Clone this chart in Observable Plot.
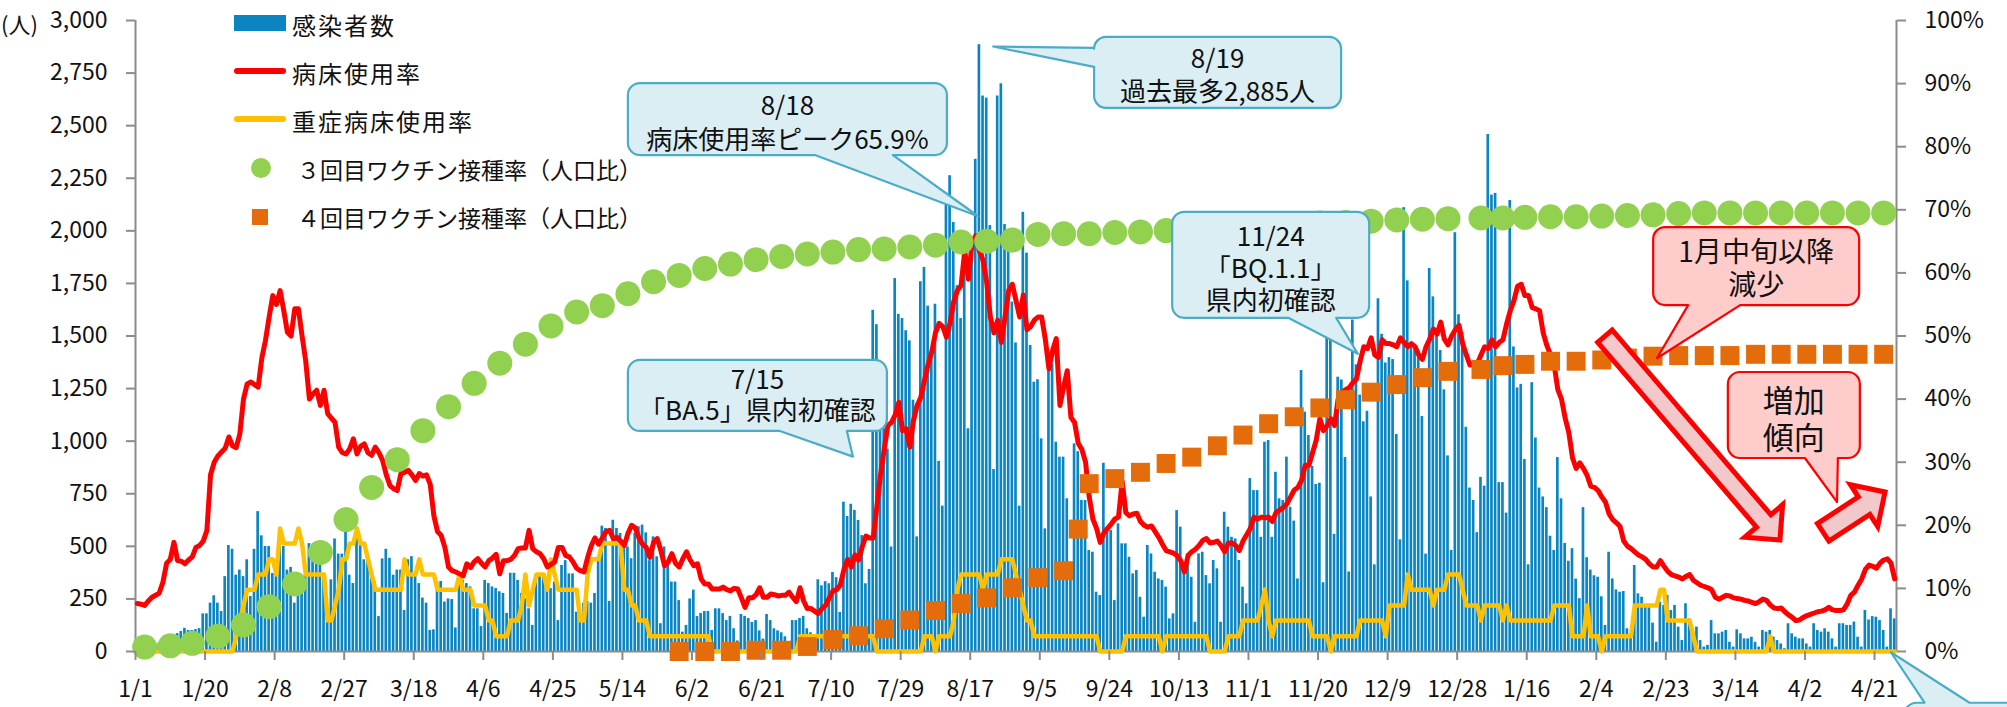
<!DOCTYPE html>
<html lang="ja">
<head>
<meta charset="utf-8">
<script src="https://cdn.jsdelivr.net/npm/d3@7"></script>
<script src="https://cdn.jsdelivr.net/npm/@observablehq/plot@0.6"></script>
<style>
html,body{margin:0;padding:0;background:#fff;overflow:hidden;}
#chart svg{display:block;overflow:hidden;}
</style>
</head>
<body>
<div id="chart"></div>
<script>
// Daily new cases, 2022-01-01 (day 0) .. 2023-04-26 (day 480)
const cases = [
15,20,10,25,30,35,40,45,30,55,
70,85,95,110,100,100,104,109,179,179,
230,265,230,190,356,504,486,363,387,356,
436,262,486,665,550,499,499,371,380,511,
499,387,400,230,309,341,356,513,499,443,
436,371,166,341,535,463,463,574,363,323,
545,513,436,436,387,330,166,440,486,443,
363,387,387,195,436,451,371,323,254,230,
100,103,330,333,235,250,247,112,345,338,
323,307,203,203,119,338,323,307,299,284,
276,181,372,372,338,276,250,203,124,338,
369,354,338,299,330,147,409,432,369,369,
187,181,230,238,230,276,450,596,585,238,
624,585,561,521,497,441,561,593,601,564,
432,545,450,132,497,409,330,330,242,92,
124,250,292,166,181,190,190,100,203,203,
180,147,167,108,50,176,167,157,138,147,
98,59,176,147,108,98,89,70,30,147,
147,157,167,108,89,40,341,312,332,322,
376,351,186,710,642,700,671,623,551,322,
390,1622,1554,1059,1059,962,497,1773,1603,1583,
1525,1477,1195,545,1758,1826,1642,1409,1651,904,
691,2127,2262,2040,1739,1583,1850,1059,1900,2340,
2885,2641,2631,2025,865,2641,2699,2030,1952,1661,
1467,691,2088,1894,1455,1280,1292,1011,583,1360,
1367,995,924,924,726,417,987,950,718,718,
480,472,282,266,895,591,575,242,607,512,
512,448,369,385,258,163,504,464,377,345,
338,306,155,179,670,591,417,464,353,139,
464,472,361,322,433,393,139,662,591,543,
535,433,306,227,822,765,765,543,995,1003,
543,852,726,718,924,686,620,345,1336,1138,
1027,880,794,800,327,1516,1500,557,1304,1291,
922,378,1576,1363,1219,1092,1142,735,412,1677,
1508,1372,1397,1388,1032,531,2110,1762,1465,1448,
1431,1117,463,1821,1686,1499,1431,1244,930,480,
1991,1601,1516,1066,777,718,565,828,786,2458,
2170,2178,803,803,658,2144,1448,1253,1270,913,
412,1278,1015,777,735,684,548,480,922,726,
514,429,489,344,251,684,446,387,360,353,
260,124,472,345,293,282,285,108,68,409,
274,258,211,211,135,44,235,219,266,195,
219,116,52,227,155,108,116,52,21,29,
147,84,84,92,100,44,21,103,84,60,
60,68,44,21,100,92,100,68,52,36,
13,132,84,68,60,60,36,21,132,100,
92,108,92,60,21,132,132,124,124,140,
68,21,195,150,166,163,147,100,21,203,
155];

// 病床使用率 (%) daily
const bedRate = [
7.6,7.5,7.3,8.0,8.6,8.9,9.3,11.0,14.0,14.6,
17.3,14.4,14.3,13.9,14.5,15.0,16.5,16.8,17.5,19.2,
28.0,30.0,31.0,31.6,32.2,34.0,32.6,32.3,34.5,40.0,
42.4,42.7,42.3,41.9,46.5,49.3,53.0,56.4,55.0,57.2,
54.0,50.6,50.0,54.3,54.3,50.0,46.0,40.0,40.8,41.4,
39.0,41.4,37.7,37.0,36.3,32.4,31.5,31.3,32.1,33.7,
31.3,32.5,32.9,31.5,31.1,32.4,31.5,30.3,28.0,26.3,
25.8,25.5,28.2,28.4,28.7,28.0,27.1,28.2,27.8,28.0,
26.5,21.5,19.0,18.4,16.5,13.4,12.8,12.6,12.3,12.0,
13.9,13.3,14.2,14.7,14.0,13.4,14.4,14.8,15.4,12.3,
14.4,14.4,14.6,15.2,16.3,16.4,16.4,19.2,16.3,15.8,
15.5,14.7,13.4,13.8,14.2,16.5,16.5,15.2,15.0,14.2,
13.2,12.8,12.6,14.9,16.8,18.0,17.0,18.0,19.0,19.2,
17.9,18.1,17.5,16.8,18.7,20.0,19.6,18.0,17.0,16.5,
14.9,17.3,17.9,16.0,13.6,14.2,15.5,14.0,13.4,14.7,
15.8,14.5,13.6,13.9,11.5,10.7,10.7,9.9,9.9,9.9,
10.2,9.8,9.6,10.0,9.9,8.5,7.0,8.5,8.5,9.0,
10.1,8.6,8.6,9.1,9.0,8.8,8.9,8.9,9.4,8.6,
7.9,10.1,8.0,6.8,6.8,6.4,6.0,6.8,7.3,8.5,
9.6,9.8,10.5,13.0,14.6,13.4,15.3,14.5,16.6,18.3,
18.0,18.0,23.0,28.0,32.0,35.8,36.3,37.5,39.5,35.0,
35.3,32.4,36.6,39.0,40.3,43.0,45.5,47.5,50.5,52.0,
51.5,49.8,52.1,55.5,57.2,58.0,63.5,59.0,64.8,65.9,
63.5,62.0,58.5,53.0,50.5,52.5,49.0,53.0,57.2,58.2,
55.6,53.0,56.5,51.0,51.5,52.5,53.0,53.0,49.5,44.8,
47.7,49.6,39.0,41.9,44.5,37.1,36.3,33.0,32.0,30.0,
24.5,21.0,19.5,17.3,18.8,19.5,20.2,21.0,21.3,27.0,
22.0,21.5,21.8,21.9,20.6,20.0,19.7,19.9,19.0,18.1,
17.0,16.0,15.8,15.6,15.2,14.4,12.6,15.2,15.8,16.2,
16.8,17.6,17.9,17.2,17.3,17.5,16.8,15.8,17.2,17.2,
16.8,16.0,17.5,18.5,19.5,21.3,21.0,21.3,21.2,21.3,
20.6,22.0,22.4,22.8,23.4,24.5,25.6,26.0,27.1,29.5,
29.5,31.5,33.5,36.9,35.0,35.8,36.9,35.8,40.1,41.0,
41.5,41.8,42.6,43.2,46.0,48.3,48.0,49.7,47.0,46.6,
49.4,48.8,48.8,48.6,48.3,49.7,49.0,48.3,48.8,48.3,
47.0,46.3,48.3,49.5,51.1,50.3,52.2,49.5,48.6,50.0,
51.0,51.7,48.8,47.0,45.4,45.6,45.6,47.0,48.3,48.0,
49.4,48.3,49.0,49.4,51.9,54.0,55.6,57.9,58.2,56.4,
56.4,54.5,54.3,54.0,50.5,48.5,47.0,45.4,41.5,40.0,
37.0,34.7,30.7,29.0,29.9,29.0,27.9,26.2,26.0,25.5,
24.5,23.7,21.8,20.9,20.4,19.8,17.5,16.7,16.3,15.8,
15.3,15.0,14.6,13.9,13.4,13.4,14.4,13.5,12.7,12.2,
12.0,11.8,11.5,11.9,12.2,11.3,10.9,10.5,10.3,10.1,
9.8,8.6,8.3,8.6,8.9,8.8,8.5,8.4,8.3,8.1,
8.0,7.8,7.6,7.9,8.3,8.1,7.4,6.9,6.8,6.9,
6.3,5.8,5.4,4.9,5.0,5.4,5.7,5.9,6.1,6.3,
6.4,6.6,7.0,6.6,6.5,6.5,6.6,7.5,8.9,9.4,
10.5,11.5,13.0,13.7,13.5,13.2,14.0,14.5,14.7,14.0,
11.5];

// 重症病床使用率 (%) daily
const severeRate = [
0,0,0,0,0,0,0,0,0,0,
0,0,0,0,0,0,0,0,0,0,
0,0,0,0,0,0,0,2.4,4.9,7.3,
9.8,9.8,9.8,12.2,12.2,12.2,14.6,14.6,12.2,19.5,
17.1,17.1,17.1,17.1,19.5,17.1,12.2,12.2,12.2,12.2,
12.2,12.2,4.9,4.9,7.3,9.8,14.6,14.6,17.1,17.1,
19.5,17.1,17.1,14.6,12.2,9.8,9.8,9.8,9.8,9.8,
9.8,9.8,9.8,14.6,12.2,12.2,12.2,14.6,12.2,12.2,
12.2,12.2,9.8,9.8,9.8,9.8,9.8,9.8,12.2,9.8,
9.8,9.8,7.3,7.3,7.3,7.3,4.9,4.9,2.4,2.4,
2.4,2.4,4.9,4.9,4.9,7.3,12.2,7.3,9.8,12.2,
12.2,12.2,9.8,14.6,12.2,9.8,9.8,9.8,9.8,9.8,
9.8,4.9,4.9,12.2,14.6,14.6,14.6,17.1,17.1,17.1,
17.1,17.1,17.1,9.8,9.8,7.3,7.3,4.9,4.9,4.9,
2.4,2.4,2.4,2.4,2.4,2.4,2.4,2.4,2.4,2.4,
2.4,2.4,2.4,2.4,2.4,2.4,2.4,0,0,0,
0,0,0,0,0,0,0,0,0,0,
0,0,0,0,0,0,0,0,0,0,
0,2.4,2.4,2.4,2.4,2.4,2.4,2.4,2.4,2.4,
2.4,2.4,2.4,2.4,2.4,2.4,2.4,2.4,2.4,2.4,
2.4,2.4,0,0,0,0,0,0,0,0,
0,0,0,0,0,2.4,2.4,2.4,0,2.4,
2.4,2.4,2.4,4.9,9.8,12.2,12.2,12.2,12.2,12.2,
12.2,9.8,12.2,12.2,12.2,12.2,14.6,14.6,14.6,14.6,
12.2,9.8,7.3,4.9,4.9,2.4,2.4,2.4,2.4,2.4,
2.4,2.4,2.4,2.4,2.4,2.4,2.4,2.4,2.4,2.4,
2.4,2.4,2.4,0,0,0,0,0,0,0,
2.4,2.4,2.4,2.4,2.4,2.4,2.4,2.4,2.4,2.4,
0,2.4,2.4,2.4,2.4,2.4,2.4,2.4,2.4,2.4,
2.4,2.4,2.4,0,0,0,0,0,2.4,2.4,
2.4,2.4,4.9,4.9,4.9,4.9,4.9,7.3,9.8,4.9,
2.4,4.9,4.9,4.9,4.9,4.9,4.9,4.9,4.9,4.9,
4.9,2.4,2.4,2.4,2.4,2.4,0,2.4,2.4,2.4,
2.4,2.4,2.4,2.4,4.9,4.9,4.9,4.9,4.9,4.9,
4.9,2.4,7.3,7.3,7.3,7.3,7.3,12.2,9.8,9.8,
9.8,9.8,9.8,9.8,7.3,9.8,9.8,9.8,12.2,12.2,
12.2,12.2,9.8,7.3,7.3,7.3,7.3,4.9,7.3,7.3,
7.3,7.3,7.3,4.9,7.3,4.9,4.9,4.9,4.9,4.9,
4.9,4.9,4.9,4.9,4.9,4.9,4.9,7.3,7.3,7.3,
7.3,7.3,2.4,2.4,2.4,2.4,7.3,2.4,2.4,2.4,
0,2.4,2.4,2.4,2.4,2.4,2.4,2.4,2.4,7.3,
7.3,7.3,7.3,7.3,7.3,7.3,9.8,9.8,4.9,4.9,
4.9,4.9,4.9,4.9,4.9,2.4,0,0,0,0,
0,0,0,0,0,0,0,0,0,0,
0,0,0,0,0,0,2.4,0,0,0,
0,0,0,0,0,0,0,0,0,0,
0,0,0,0,0,0,0,0,0,0,
0,0,0,0,0,0,0,0,0,0,
0];

// ３回目ワクチン接種率 (weekly)
const vac3Days = [2,9,15,22,29,36,43,50,57,64,71,78,85,92,99,106,113,120,127,134,141,148,155,162,169,176,183,190,197,204,211,218,225,232,239,246,253,260,267,274,281,288,295,302,309,316,323,330,337,344,351,358,367,373,379,386,393,400,407,414,421,428,435,442,449,456,463,470,477];
const vac3Rate = [0.7,0.9,1.3,2.4,4.2,7.1,10.7,15.7,20.9,26.0,
30.4,35.0,38.8,42.5,45.7,48.7,51.6,53.8,54.8,56.7,
58.6,59.6,60.7,61.4,62.1,62.6,63.0,63.3,63.7,63.8,
64.1,64.4,64.9,65.0,65.2,66.1,66.2,66.2,66.4,66.5,
66.7,66.9,67.1,67.3,67.5,67.7,67.9,68.0,68.2,68.4,
68.5,68.6,68.7,68.7,68.8,68.9,68.9,69.0,69.1,69.2,
69.4,69.5,69.5,69.5,69.5,69.5,69.5,69.5,69.5];

// ４回目ワクチン接種率 (weekly)
const vac4Days = [148,155,162,169,176,183,190,197,204,211,218,225,232,239,246,253,257,260,267,274,281,288,295,302,309,316,323,330,337,344,351,358,367,373,379,386,393,400,407,414,421,428,435,442,449,456,463,470,477];
const vac4Rate = [0.0,0.0,0.0,0.2,0.2,0.8,1.9,2.5,3.6,5.0,6.5,7.6,8.5,10.1,11.7,12.8,19.4,26.6,27.4,28.4,29.8,30.8,32.6,34.3,36.1,37.2,38.6,39.9,41.1,42.3,43.4,44.4,44.7,45.3,45.5,46.0,46.0,46.2,46.5,46.8,46.9,46.9,46.9,47.1,47.1,47.1,47.1,47.1,47.1];

const xTickDays = [0,19,38,57,76,95,114,133,152,171,190,209,228,247,266,285,304,323,342,361,380,399,418,437,456,475];
const xTickLabels = ["1/1","1/20","2/8","2/27","3/18","4/6","4/25","5/14","6/2","6/21","7/10","7/29","8/17","9/5","9/24","10/13","11/1","11/20","12/9","12/28","1/16","2/4","2/23","3/14","4/2","4/21"];
const leftTickValues = [0,250,500,750,1000,1250,1500,1750,2000,2250,2500,2750,3000];
const leftTickLabels = ["0","250","500","750","1,000","1,250","1,500","1,750","2,000","2,250","2,500","2,750","3,000"];
const rightTickValues = [0,10,20,30,40,50,60,70,80,90,100];
const rightTickLabels = ["0%","10%","20%","30%","40%","50%","60%","70%","80%","90%","100%"];
const leftUnit = "(人)";
const legendLabels = ["感染者数","病床使用率","重症病床使用率","３回目ワクチン接種率（人口比）","４回目ワクチン接種率（人口比）"];
const calloutTexts = [
  ["8/18","病床使用率ピーク65.9%"],
  ["8/19","過去最多2,885人"],
  ["7/15","「BA.5」県内初確認"],
  ["11/24","「BQ.1.1」","県内初確認"],
  ["1月中旬以降","減少"],
  ["増加","傾向"],
  []
];

const FONT = "'Noto Sans CJK JP','Noto Sans',sans-serif";
const C = {bar:"#0a85c2", bed:"#ff0000", severe:"#ffc000", vac3:"#92d050", vac4:"#e46c0a", axis:"#8c8c8c", text:"#111111"};
const PCT = 30; // 100% (right axis) corresponds to 3,000 (left axis)

const caseData = cases.map((v,i)=>({day:i, v}));
const bedData = bedRate.map((v,i)=>({day:i, v}));
const sevData = severeRate.map((v,i)=>({day:i, v}));
const v3 = vac3Days.map((d,i)=>({day:d, v:vac3Rate[i]}));
const v4 = vac4Days.map((d,i)=>({day:d, v:vac4Rate[i]}));

const leftMap = new Map(leftTickValues.map((v,i)=>[v, leftTickLabels[i]]));
const rightMap = new Map(rightTickValues.map((v,i)=>[v*PCT, rightTickLabels[i]]));
const xMap = new Map(xTickDays.map((v,i)=>[v, xTickLabels[i]]));

const plot = Plot.plot({
  width: 2007, height: 707,
  marginLeft: 135, marginRight: 111, marginTop: 20, marginBottom: 56,
  style: {fontFamily: FONT, background: "#fff"},
  x: {type: "linear", domain: [0, 481]},
  y: {type: "linear", domain: [0, 3000]},
  marks: [
    Plot.ruleX([0, 481], {stroke: C.axis, strokeWidth: 2}),
    Plot.rect(caseData, {x1: d=>d.day, x2: d=>d.day+1, y1: () => 0, y2: d=>d.v, fill: C.bar, insetLeft: 0.5, insetRight: 0.5}),
    Plot.ruleY([0], {stroke: C.axis, strokeWidth: 2}),
    Plot.line(sevData, {x: d=>d.day+0.5, y: d=>d.v*PCT, stroke: C.severe, strokeWidth: 4.5, strokeLinejoin: "round"}),
    Plot.line(bedData, {x: d=>d.day+0.5, y: d=>d.v*PCT, stroke: C.bed, strokeWidth: 5, strokeLinejoin: "round"}),
    Plot.dot(v3, {x: d=>d.day+0.5, y: d=>d.v*PCT, r: 12.5, fill: C.vac3, stroke: null}),
    Plot.dot(v4, {x: d=>d.day+0.5, y: d=>d.v*PCT, r: 10.7, symbol: "square", fill: C.vac4, stroke: null}),
    Plot.axisY(leftTickValues, {anchor: "left", tickSize: 9, tickPadding: 19, tickFormat: d => leftMap.get(d), fontSize: 23, stroke: C.axis, strokeWidth: 2, fill: C.text}),
    Plot.axisY(rightTickValues.map(v=>v*PCT), {anchor: "right", tickSize: 9, tickPadding: 19, tickFormat: d => rightMap.get(d), fontSize: 23, stroke: C.axis, strokeWidth: 2, fill: C.text}),
    Plot.axisX(xTickDays, {anchor: "bottom", tickSize: 9, tickPadding: 20, tickFormat: d => xMap.get(d), fontSize: 23, stroke: C.axis, strokeWidth: 2, fill: C.text})
  ]
});
document.getElementById("chart").appendChild(plot);

// ---------- annotations ----------
const svg = d3.select(plot);
const sx = plot.scale("x"), sy = plot.scale("y");
const px = d => sx.apply(d), py = p => sy.apply(p*PCT);

svg.append("text").attr("x", 1).attr("y", 23).attr("dominant-baseline","central").attr("text-anchor","start")
  .attr("font-family", FONT).attr("font-size", 22).attr("fill", C.text).text(leftUnit);

// arrows
const arrows = [
  {from:[401.5,49.9], to:[449.3,17.6], shaft:19, head:50, headLen:25},
  {from:[461.1,18.8], to:[478.0,25.2], shaft:21, head:50, headLen:25}
];
arrows.forEach(a => {
  const x0 = px(a.from[0]), y0 = py(a.from[1]), x1 = px(a.to[0]), y1 = py(a.to[1]);
  const L = Math.hypot(x1-x0, y1-y0), ux = (x1-x0)/L, uy = (y1-y0)/L, nx = -uy, ny = ux;
  const kx = x1 - ux*a.headLen, ky = y1 - uy*a.headLen;
  const s = a.shaft/2, h = a.head/2;
  const pts = [[x0+nx*s,y0+ny*s],[kx+nx*s,ky+ny*s],[kx+nx*h,ky+ny*h],[x1,y1],[kx-nx*h,ky-ny*h],[kx-nx*s,ky-ny*s],[x0-nx*s,y0-ny*s]];
  svg.append("path").attr("d","M"+pts.map(p=>p.join(",")).join("L")+"Z")
    .attr("fill","#f2c8ca").attr("stroke","#ff0000").attr("stroke-width",5).attr("stroke-linejoin","miter");
});

// callouts
const callouts = [
  {day:178.2, pct:84.3, w:319, h:72, tip:[230.3,68.9], side:"bottom", base:[187,265], kind:"blue", size:26, dy:[-16,18]},
  {day:295.7, pct:91.7, w:247, h:71, tip:[234.4,95.8], side:"left", base:[11,30], kind:"blue", size:26, dy:[-16,17]},
  {day:170.0, pct:40.5, w:259, h:71, tip:[196.1,30.8], side:"bottom", base:[152,219], kind:"blue", size:26, dy:[-18,13]},
  {day:310.2, pct:61.2, w:197, h:106, tip:[334.0,47.1], side:"bottom", base:[116,164], kind:"blue", size:26, dy:[-30,2,34]},
  {day:442.8, pct:61.0, w:206, h:78, tip:[415.7,46.4], side:"bottom", base:[35,87], kind:"pink", size:28, dy:[-16,17]},
  {day:453.1, pct:37.4, w:132, h:86, tip:[464.9,23.6], side:"bottom", base:[77,110], kind:"pink", size:31, dy:[-17,20]},
  {day:504.5, pct:-14.3, w:155, h:77, tip:[479.6,-0.2], side:"top", base:[20,65], kind:"blue", size:26, dy:[]}
];
function calloutPath(x0,y0,x1,y1,r,side,b1,b2,tx,ty){
  const tr = `A${r},${r} 0 0 1 `;
  if (side === "bottom")
    return `M${x0+r},${y0}H${x1-r}${tr}${x1},${y0+r}V${y1-r}${tr}${x1-r},${y1}H${b2}L${tx},${ty}L${b1},${y1}H${x0+r}${tr}${x0},${y1-r}V${y0+r}${tr}${x0+r},${y0}Z`;
  if (side === "left")
    return `M${x0+r},${y0}H${x1-r}${tr}${x1},${y0+r}V${y1-r}${tr}${x1-r},${y1}H${x0+r}${tr}${x0},${y1-r}V${b2}L${tx},${ty}L${x0},${b1}V${y0+r}${tr}${x0+r},${y0}Z`;
  return `M${x0+r},${y0}H${b1}L${tx},${ty}L${b2},${y0}H${x1-r}${tr}${x1},${y0+r}V${y1-r}${tr}${x1-r},${y1}H${x0+r}${tr}${x0},${y1-r}V${y0+r}${tr}${x0+r},${y0}Z`;
}
callouts.forEach((c, i) => {
  const cx = px(c.day), cy = py(c.pct);
  const x0 = cx - c.w/2, x1 = cx + c.w/2, y0 = cy - c.h/2, y1 = cy + c.h/2;
  const tx = px(c.tip[0]), ty = py(c.tip[1]);
  const b1 = c.side === "left" ? y0 + c.base[0] : x0 + c.base[0];
  const b2 = c.side === "left" ? y0 + c.base[1] : x0 + c.base[1];
  const blue = c.kind === "blue";
  svg.append("path").attr("d", calloutPath(x0,y0,x1,y1,12,c.side,b1,b2,tx,ty))
    .attr("fill", blue ? "#dbeef4" : "#ffcccc")
    .attr("stroke", blue ? "#4bacc6" : "#ff0000")
    .attr("stroke-width", 2.2).attr("stroke-linejoin","round");
  calloutTexts[i].forEach((t, j) => {
    svg.append("text").attr("x", cx).attr("y", cy + c.dy[j])
      .attr("text-anchor","middle").attr("dominant-baseline","central")
      .attr("font-family", FONT).attr("font-size", c.size).attr("fill", C.text).text(t);
  });
});

// legend
const lg = svg.append("g").attr("text-anchor","start");
lg.append("rect").attr("x",234).attr("y",15).attr("width",52).attr("height",16).attr("fill",C.bar);
lg.append("line").attr("x1",237).attr("x2",283).attr("y1",71).attr("y2",71).attr("stroke",C.bed).attr("stroke-width",6).attr("stroke-linecap","round");
lg.append("line").attr("x1",237).attr("x2",283).attr("y1",119).attr("y2",119).attr("stroke",C.severe).attr("stroke-width",6).attr("stroke-linecap","round");
lg.append("circle").attr("cx",261).attr("cy",168).attr("r",10).attr("fill",C.vac3);
lg.append("rect").attr("x",252).attr("y",209).attr("width",16).attr("height",16).attr("fill",C.vac4);
const legendX = [292,292,292,297,297], legendY = [24,72,120,169,217], legendSize = [24,24,24,23,23];
legendLabels.forEach((t,i) => {
  lg.append("text").attr("x",legendX[i]).attr("y",legendY[i]).attr("dominant-baseline","central")
    .attr("text-anchor","start")
    .attr("font-family",FONT).attr("font-size",legendSize[i]).attr("fill",C.text)
    .attr("letter-spacing", i < 3 ? "2px" : "0px").text(t);
});
</script>
</body>
</html>
